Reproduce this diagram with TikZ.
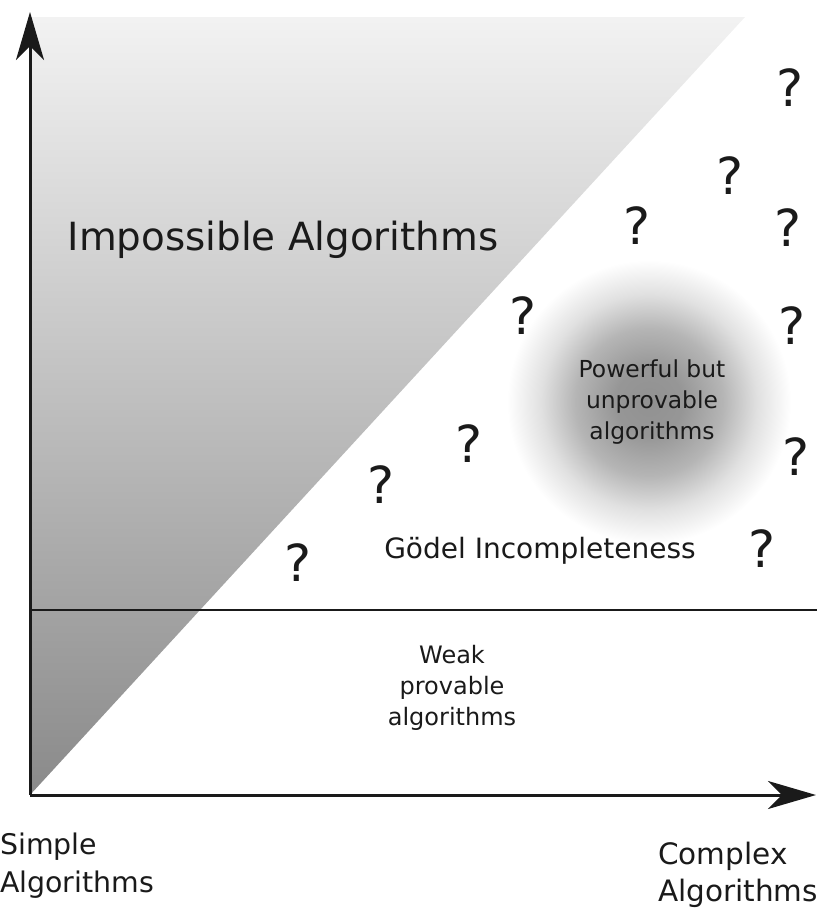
\documentclass[tikz,border=0pt]{standalone}
\usepackage{fontspec}
\setmainfont{DejaVu Sans}
\usetikzlibrary{arrows.meta}
\pgfdeclareradialshading{blobshade}{\pgfpoint{0bp}{0bp}}{color(0bp)=(black!43); color(6bp)=(black!41); color(13bp)=(black!29); color(19bp)=(black!12); color(25bp)=(white); color(50bp)=(white)}
\definecolor{ink}{HTML}{1A1A1A}
\tikzset{
  axis/.style={line width=3pt, draw=ink, -{Stealth[length=48pt,width=28pt,inset=14pt]}},
  qm/.style={font=\fontsize{51}{51}\selectfont, text=ink, inner sep=0pt},
  lbl/.style={text=ink, inner sep=0pt, align=center},
}
\begin{document}
\begin{tikzpicture}[x=1pt,y=-1pt]
\useasboundingbox (0,0) rectangle (825,921);
% triangle
\shade[top color=black!5, bottom color=black!46] (30,795) -- (30,17) -- (745,17) -- cycle;
% blob
\shade[shading=blobshade] (649,402) circle (142);
% horizontal line
\coordinate (L1) at (30,610);
\coordinate (L2) at (817,610);
\draw[line width=1.6pt, ink] (L1) -- (L2);
% axes
\coordinate (O) at (30,795);
\coordinate (Ytop) at (30,12);
\coordinate (Xend) at (816,795);
\draw[axis] (O) -- (Ytop);
\draw[axis] (O) -- (Xend);
% labels
\node[lbl, font=\fontsize{38.8}{44}\selectfont] (imp) at (283,240) {Impossible Algorithms};
\node[lbl, font=\fontsize{28}{31}\selectfont] (godel) at (540,551) {Gödel Incompleteness};
\node[lbl, font=\fontsize{24}{31}\selectfont] (weak) at (452,688) {Weak\\provable\\algorithms};
\node[lbl, font=\fontsize{23.4}{31}\selectfont] (pow) at (652,402) {Powerful but\\unprovable\\algorithms};
\node[lbl, anchor=west, align=left, font=\fontsize{28.4}{38}\selectfont] (simple) at (0,866) {Simple\\Algorithms};
\node[lbl, anchor=west, align=left, font=\fontsize{29.5}{37}\selectfont] (complex) at (658,875) {Complex\\Algorithms};
% question marks
\node[qm] (q1) at (790,88) {?};
\node[qm] (q2) at (730,176) {?};
\node[qm] (q3) at (637,226) {?};
\node[qm] (q4) at (788,228) {?};
\node[qm] (q5) at (523,316) {?};
\node[qm] (q6) at (792,326) {?};
\node[qm] (q7) at (469,444) {?};
\node[qm] (q8) at (796,457) {?};
\node[qm] (q9) at (381,485) {?};
\node[qm] (q10) at (762,549) {?};
\node[qm] (q11) at (298,563) {?};
\end{tikzpicture}
\end{document}
